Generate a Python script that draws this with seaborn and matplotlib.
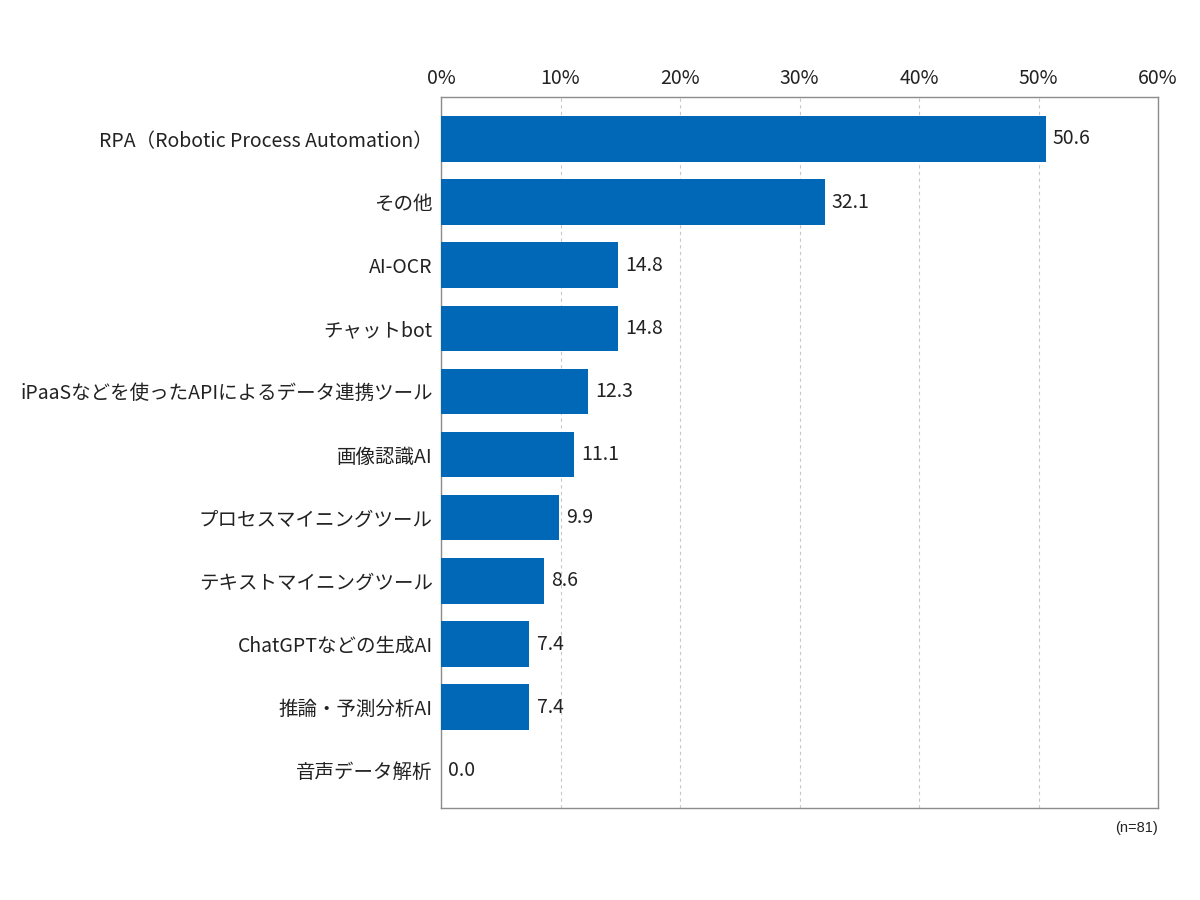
import matplotlib
matplotlib.use("Agg")
import matplotlib.pyplot as plt
import seaborn as sns
import pandas as pd
from matplotlib.ticker import PercentFormatter

categories = [
    "RPA（Robotic Process Automation）",
    "その他",
    "AI-OCR",
    "チャットbot",
    "iPaaSなどを使ったAPIによるデータ連携ツール",
    "画像認識AI",
    "プロセスマイニングツール",
    "テキストマイニングツール",
    "ChatGPTなどの生成AI",
    "推論・予測分析AI",
    "音声データ解析",
]
values = [50.6, 32.1, 14.8, 14.8, 12.3, 11.1, 9.9, 8.6, 7.4, 7.4, 0.0]
x_ticks = [0, 10, 20, 30, 40, 50, 60]
note = "(n=81)"

df = pd.DataFrame({"item": categories, "pct": values})

sns.set_theme(style="white")
plt.rcParams["font.family"] = ["Noto Sans CJK JP", "DejaVu Sans"]

fig = plt.figure(figsize=(12, 9), dpi=100)
ax = fig.add_axes([0.3675, 0.102, 0.5975, 0.79])

sns.barplot(data=df, x="pct", y="item", color="#0068B7", saturation=1,
            width=0.72, linewidth=0, ax=ax, zorder=3)

ax.set_xlim(0, 60)
ax.set_ylim(10.6, -0.66)
ax.set_xticks(x_ticks)
ax.xaxis.set_major_formatter(PercentFormatter(decimals=0))
ax.xaxis.tick_top()
ax.tick_params(axis="x", length=0, pad=6, labelsize=14, colors="#222222")
ax.tick_params(axis="y", length=0, pad=6, labelsize=14, colors="#222222")
ax.set_xlabel("")
ax.set_ylabel("")

ax.grid(axis="x", linestyle=(0, (3, 3)), color="#c8c8c8", linewidth=0.8, zorder=0)
for s in ax.spines.values():
    s.set_color("#8c8c8c")
    s.set_linewidth(1.0)

for i, v in enumerate(values):
    ax.text(v + 0.6, i, f"{v:.1f}", va="center", ha="left", fontsize=14,
            color="#222222")

fig.text(0.965, 0.088, note, ha="right", va="top", fontsize=10.5,
         family=["Liberation Sans", "DejaVu Sans"], color="#222222")

fig.savefig("out.png", dpi=100)
